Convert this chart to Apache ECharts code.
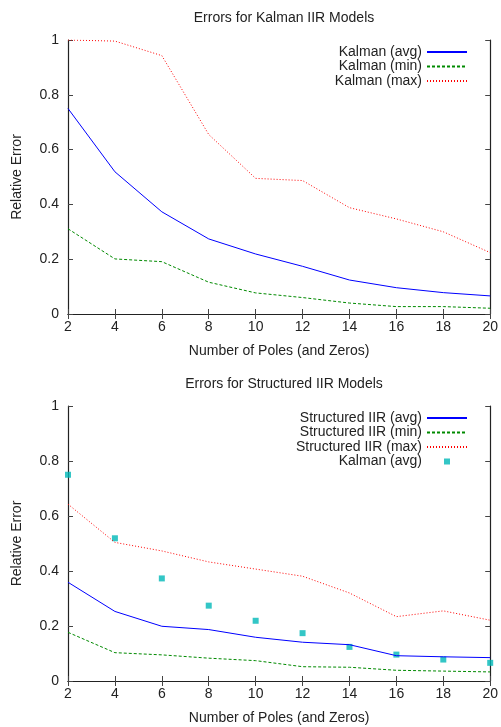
<!DOCTYPE html>
<html>
<head>
  <meta charset="UTF-8"/>
  <title></title>
  <script src="https://cdn.jsdelivr.net/npm/echarts@6/dist/echarts.min.js"></script>
  <style>
    html, body { margin: 0; padding: 0; background: #fff; }
  </style>
</head>
<body>
<div id="main" style="width: 501px;height: 727px;"></div>
<script type="text/javascript">
    // x轴：极点数
    const poles = [2, 4, 6, 8, 10, 12, 14, 16, 18, 20];
    const xTicks = ['2', '4', '6', '8', '10', '12', '14', '16', '18', '20'];

    // 上图：Kalman
    const kalmanAvg = [0.750, 0.519, 0.373, 0.274, 0.219, 0.174, 0.124, 0.096, 0.078, 0.066];
    const kalmanMin = [0.311, 0.201, 0.191, 0.116, 0.077, 0.060, 0.040, 0.027, 0.027, 0.021];
    const kalmanMax = [1.000, 0.996, 0.943, 0.655, 0.495, 0.487, 0.388, 0.347, 0.300, 0.224];

    // 下图：Structured IIR
    const structAvg = [0.359, 0.253, 0.199, 0.187, 0.159, 0.141, 0.132, 0.092, 0.088, 0.085];
    const structMin = [0.177, 0.103, 0.095, 0.083, 0.074, 0.052, 0.050, 0.039, 0.036, 0.033];
    const structMax = [0.643, 0.504, 0.473, 0.433, 0.407, 0.381, 0.320, 0.234, 0.255, 0.221];

    const titles = ['Errors for Kalman IIR Models', 'Errors for Structured IIR Models'];
    const xName = 'Number of Poles (and Zeros)';
    const yName = 'Relative Error';

    const font = 'Liberation Sans, Arial, Helvetica, sans-serif';
    const fs = 14;
    const pair = (ys) => poles.map((p, i) => [p, ys[i]]);

    let myChart = echarts.init(document.getElementById('main'));

    // 坐标轴（带边框与内向刻度）
    function xAxes(gi) {
        return [{
            gridIndex: gi, type: 'value', min: 2, max: 20, interval: 2, position: 'bottom',
            name: xName, nameLocation: 'middle', nameGap: 30,
            nameTextStyle: {fontSize: fs, color: '#222', fontFamily: font},
            axisLine: {show: true, lineStyle: {color: '#222', width: 1.2}},
            axisTick: {show: true, inside: true, length: 5, lineStyle: {color: '#444'}},
            axisLabel: {fontSize: fs, color: '#222', fontFamily: font, margin: 6,
                formatter: (v) => xTicks[poles.indexOf(v)]},
            splitLine: {show: false}
        }, {
            gridIndex: gi, type: 'value', min: 2, max: 20, interval: 2, position: 'top',
            axisLine: {show: true, lineStyle: {color: '#222', width: 1.2}},
            axisTick: {show: true, inside: true, length: 5, lineStyle: {color: '#444'}},
            axisLabel: {show: false},
            splitLine: {show: false}
        }];
    }

    function yAxes(gi) {
        return [{
            gridIndex: gi, type: 'value', min: 0, max: 1, interval: 0.2, position: 'left',
            name: yName, nameLocation: 'middle', nameGap: 44,
            nameTextStyle: {fontSize: fs, color: '#222', fontFamily: font},
            axisLine: {show: true, lineStyle: {color: '#222', width: 1.2}},
            axisTick: {show: true, inside: true, length: 5, lineStyle: {color: '#444'}},
            axisLabel: {fontSize: fs, color: '#222', fontFamily: font, margin: 9,
                formatter: (v) => String(Math.round(v * 10) / 10)},
            splitLine: {show: false}
        }, {
            gridIndex: gi, type: 'value', min: 0, max: 1, interval: 0.2, position: 'right',
            axisLine: {show: true, lineStyle: {color: '#222', width: 1.2}},
            axisTick: {show: true, inside: true, length: 5, lineStyle: {color: '#444'}},
            axisLabel: {show: false},
            splitLine: {show: false}
        }];
    }

    function line(name, data, color, type, xi, yi) {
        return {
            name: name, type: 'line', data: pair(data),
            xAxisIndex: xi, yAxisIndex: yi,
            symbol: 'none', showSymbol: false, animation: false,
            lineStyle: {color: color, width: 1, type: type},
            itemStyle: {color: color}
        };
    }

    // 图例项：线条不显示圆点
    const lineItem = (name) => ({name: name, itemStyle: {opacity: 0}});
    // 散点图例：在 40x10 框中间画小方块
    const dotIcon = 'path://M0 0L0 0M40 10L40 10M17 2L23 2L23 8L17 8Z';

    const legendText = {
        'Kalman (avg) points': 'Kalman (avg)'
    };

    let option = {
        animation: false,
        backgroundColor: '#fff',
        title: [
            {text: titles[0], left: 279, top: 6, textAlign: 'center',
                textStyle: {fontSize: fs, fontWeight: 'normal', color: '#222', fontFamily: font}},
            {text: titles[1], left: 279, top: 372, textAlign: 'center',
                textStyle: {fontSize: fs, fontWeight: 'normal', color: '#222', fontFamily: font}}
        ],
        grid: [
            {left: 68, right: 10, top: 40, height: 274},
            {left: 68, right: 10, top: 406, height: 275}
        ],
        xAxis: xAxes(0).concat(xAxes(1)),
        yAxis: yAxes(0).concat(yAxes(1)),
        legend: [
            {
                orient: 'vertical', right: 28, top: 40, align: 'right',
                itemWidth: 40, itemHeight: 10, itemGap: 0.5,
                textStyle: {fontSize: fs, color: '#222', fontFamily: font, lineHeight: 14},
                data: [lineItem('Kalman (avg)'), lineItem('Kalman (min)'), lineItem('Kalman (max)')]
            },
            {
                orient: 'vertical', right: 28, top: 406, align: 'right',
                itemWidth: 40, itemHeight: 10, itemGap: 0.5,
                textStyle: {fontSize: fs, color: '#222', fontFamily: font, lineHeight: 14},
                formatter: (name) => legendText[name] || name,
                data: [lineItem('Structured IIR (avg)'), lineItem('Structured IIR (min)'),
                    lineItem('Structured IIR (max)'), {name: 'Kalman (avg) points', icon: dotIcon}]
            }
        ],
        series: [
            line('Kalman (avg)', kalmanAvg, '#0000ff', 'solid', 0, 0),
            line('Kalman (min)', kalmanMin, '#008a00', [3, 2], 0, 0),
            line('Kalman (max)', kalmanMax, '#ff0000', [1, 2], 0, 0),
            line('Structured IIR (avg)', structAvg, '#0000ff', 'solid', 2, 2),
            line('Structured IIR (min)', structMin, '#008a00', [3, 2], 2, 2),
            line('Structured IIR (max)', structMax, '#ff0000', [1, 2], 2, 2),
            {
                name: 'Kalman (avg) points', type: 'scatter', data: pair(kalmanAvg),
                xAxisIndex: 2, yAxisIndex: 2,
                symbol: 'rect', symbolSize: 6,
                itemStyle: {color: '#00b8b8'}
            }
        ]
    };
    myChart.setOption(option);
</script>
</body>
</html>
